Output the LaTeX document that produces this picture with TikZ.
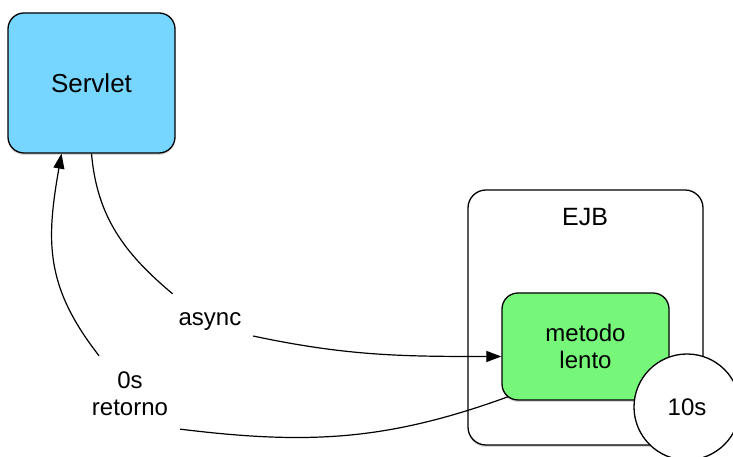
\documentclass[tikz,border=0pt]{standalone}
\usepackage{fontspec}
\setmainfont{Liberation Sans}
\usetikzlibrary{arrows.meta,shadows}
\definecolor{servletblue}{RGB}{118,214,255}
\definecolor{metodogreen}{RGB}{118,247,122}

\begin{document}
\begin{tikzpicture}[x=1pt, y=1pt, every node/.style={font=\fontsize{24}{27}\selectfont}, >={Triangle[length=15pt, width=11pt]},
	box/.style={draw, line width=1.3pt, rounded corners=16pt, drop shadow={shadow xshift=0pt, shadow yshift=-2pt, opacity=0.3}},
	lab/.style={align=center, inner sep=0pt},
	conn/.style={line width=1.2pt}]
	\useasboundingbox (0,0) rectangle (733,457);
	% boxes
	\node[box, fill=servletblue, minimum width=167pt, minimum height=140pt, font=\fontsize{26}{30}\selectfont] (servlet) at (91.5,374) {Servlet};
	\node[box, fill=white, rounded corners=18pt, minimum width=235pt, minimum height=255pt] (ejb) at (585.5,139.5) {};
	\node[font=\fontsize{25}{30}\selectfont] (ejbtitle) at (585,240) {EJB};
	\node[box, fill=metodogreen, minimum width=167pt, minimum height=107pt, align=center] (metodo) at (585.5,110.5) {metodo\\lento};
	% labels on the arrows
	\node[lab, minimum width=86pt, minimum height=56pt] (async) at (210,135) {async};
	\node[lab, minimum width=100pt, minimum height=76pt] (ret) at (130,63) {0s\\retorno};
	\draw[conn, ->] (servlet.south) to[out=-85, in=140] (async.143)
		(async.-18) to[out=-12, in=180] ([yshift=-10pt]metodo.west);
	\draw[conn, ->] ([shift={(7pt,4pt)}]metodo.south west) to[out=200, in=-7] (ret.-35)
		(ret.129) to[out=128, in=-100, looseness=1.1] ([xshift=-30pt]servlet.south);
	% timer
	\node[draw, circle, fill=white, line width=1.3pt, minimum size=106pt] (timer) at (687,50) {10s};
\end{tikzpicture}
\end{document}
